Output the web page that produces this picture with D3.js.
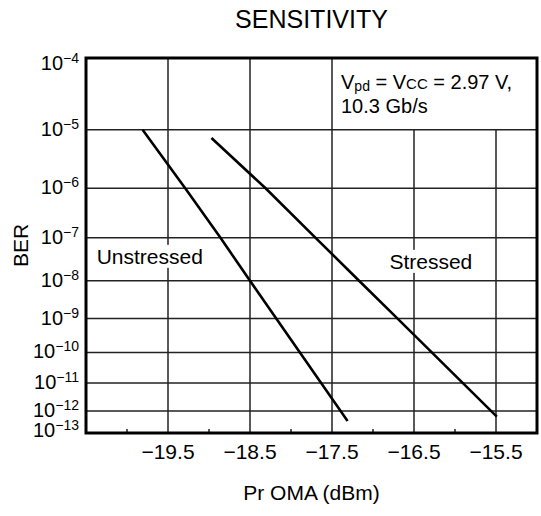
<html>
<head>
    <meta http-equiv="Content-Type" content="text/html;charset=utf-8">
    <title>Sensitivity - BER</title>
    <style>
        body { margin: 0; background: #fff; }
        text { font-family: "Liberation Sans", Arial, sans-serif; fill: #000; }
    </style>
</head>
<body>
</body>
<script type="text/javascript" src="https://cdn.jsdelivr.net/npm/d3@7/dist/d3.min.js"></script>
<script>
    var w = 541, h = 516;

    // received power, dBm
    var unstressedPower = [-19.81, -19.29, -18.86, -18.5, -18.18, -17.31];
    // BER exponent (BER = 10^-n)
    var unstressedExp = [5, 6, 7, 8, 9, 12.38];

    var stressedPower = [-18.97, -18.31, -17.70, -17.17, -16.70, -15.49];
    var stressedExp = [5.13, 6, 7, 8, 9, 12.21];

    var xTicks = [-19.5, -18.5, -17.5, -16.5, -15.5];
    var xMinorTicks = [-20, -19, -18, -17, -16];
    var yTicks = [4, 5, 6, 7, 8, 9, 10, 11, 12, 13];

    var pLeft = 86, pRight = 537, pTop = 58, pBottom = 433;

    // BER axis is log(-log(BER)): a log scale on the exponent
    var x = d3.scaleLinear().domain([-20.5, -15]).range([pLeft, pRight]);
    var y = d3.scaleLog().domain([4, 12.85]).range([pTop, pBottom]);

    var svg = d3.select('body')
            .append('svg')
            .attr('width', w)
            .attr('height', h);

    // grid
    var grid = svg.append('g')
            .attr('stroke', '#222')
            .attr('stroke-width', 1.5);

    grid.selectAll('line.h')
            .data(yTicks.filter(function(d){ return d > 4 && y(d) < pBottom; }))
            .enter()
            .append('line')
            .attr('x1', pLeft)
            .attr('x2', pRight)
            .attr('y1', function(d){ return y(d); })
            .attr('y2', function(d){ return y(d); });

    // the two right gridlines stop under the note box
    grid.selectAll('line.v')
            .data(xTicks)
            .enter()
            .append('line')
            .attr('x1', function(d){ return x(d); })
            .attr('x2', function(d){ return x(d); })
            .attr('y1', function(d){ return d > -17.5 ? y(5) : pTop; })
            .attr('y2', pBottom);

    grid.selectAll('line.minor')
            .data(xMinorTicks)
            .enter()
            .append('line')
            .attr('x1', function(d){ return x(d); })
            .attr('x2', function(d){ return x(d); })
            .attr('y1', pBottom - 4)
            .attr('y2', pBottom);

    // curve labels with white backing, they break the gridlines
    function label(text, px, exp) {
        var g = svg.append('g');
        var t = g.append('text')
                .attr('x', x(px))
                .attr('y', y(exp))
                .attr('font-size', 21)
                .text(text);
        var b = t.node().getBBox();
        g.insert('rect', 'text')
                .attr('x', b.x - 3)
                .attr('y', b.y)
                .attr('width', b.width + 6)
                .attr('height', b.height)
                .attr('fill', '#fff');
    }
    label('Unstressed', -20.37, 7.59);
    label('Stressed', -16.8, 7.71);

    // curves
    var line = d3.line()
            .x(function(d){ return x(d[0]); })
            .y(function(d){ return y(d[1]); });

    svg.append('path')
            .datum(d3.zip(unstressedPower, unstressedExp))
            .attr('d', line)
            .attr('fill', 'none')
            .attr('stroke', '#000')
            .attr('stroke-width', 2.6);

    svg.append('path')
            .datum(d3.zip(stressedPower, stressedExp))
            .attr('d', line)
            .attr('fill', 'none')
            .attr('stroke', '#000')
            .attr('stroke-width', 2.6);

    // frame
    svg.append('rect')
            .attr('x', pLeft)
            .attr('y', pTop)
            .attr('width', pRight - pLeft)
            .attr('height', pBottom - pTop)
            .attr('fill', 'none')
            .attr('stroke', '#000')
            .attr('stroke-width', 3);

    // y tick labels 10^-n
    var yLabels = svg.selectAll('text.ytick')
            .data(yTicks)
            .enter()
            .append('text')
            .attr('class', 'ytick')
            .attr('x', 79)
            .attr('y', function(d){
                return Math.min(Math.max(y(d) + 6, pTop + 12), pBottom + 4);
            })
            .attr('text-anchor', 'end')
            .attr('font-size', 20);
    yLabels.append('tspan').text('10');
    yLabels.append('tspan')
            .attr('dy', -7)
            .attr('font-size', 14)
            .text(function(d){ return '\u2212' + d; });

    // x tick labels
    svg.selectAll('text.xtick')
            .data(xTicks)
            .enter()
            .append('text')
            .attr('class', 'xtick')
            .attr('x', function(d){ return x(d); })
            .attr('y', 459)
            .attr('text-anchor', 'middle')
            .attr('font-size', 21)
            .text(function(d){ return d3.format('.1f')(d).replace('-', '\u2212'); });

    // titles
    svg.append('text')
            .attr('x', (pLeft + pRight) / 2)
            .attr('y', 28)
            .attr('text-anchor', 'middle')
            .attr('font-size', 25)
            .text('SENSITIVITY');

    svg.append('text')
            .attr('x', (pLeft + pRight) / 2)
            .attr('y', 500)
            .attr('text-anchor', 'middle')
            .attr('font-size', 21)
            .text('Pr OMA (dBm)');

    svg.append('text')
            .attr('transform', 'translate(28,' + (pTop + pBottom) / 2 + ') rotate(-90)')
            .attr('text-anchor', 'middle')
            .attr('font-size', 21)
            .text('BER');

    // note box
    var note = svg.append('text')
            .attr('x', x(-17.5) + 9)
            .attr('y', 89)
            .attr('font-size', 20);
    note.append('tspan').text('V');
    note.append('tspan').attr('font-size', 14).attr('dy', 2).text('pd');
    note.append('tspan').attr('dy', -2).text(' = V');
    note.append('tspan').attr('font-size', 15).text('CC');
    note.append('tspan').text(' = 2.97 V,');

    svg.append('text')
            .attr('x', x(-17.5) + 9)
            .attr('y', 113)
            .attr('font-size', 20)
            .text('10.3 Gb/s');
</script>

</html>
